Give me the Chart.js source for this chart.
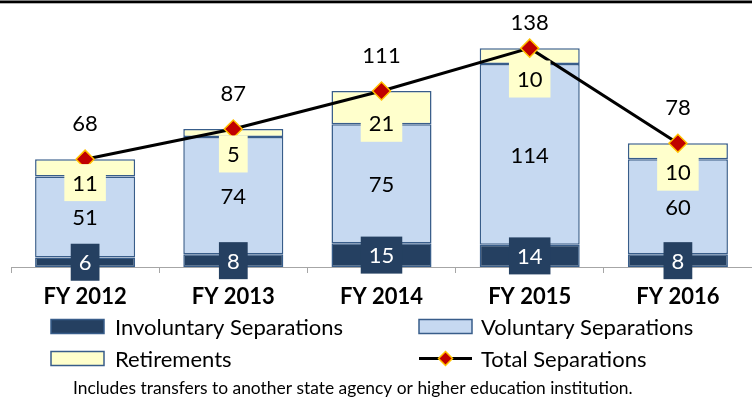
<!DOCTYPE html>
<html><head><meta charset="utf-8">
<script src="https://cdn.jsdelivr.net/npm/chart.js@4.4.0/dist/chart.umd.min.js"></script>
<style>html,body{margin:0;padding:0;background:#fff;overflow:hidden}#wrap{position:relative;width:752px;height:401px}</style>
</head><body><div id="wrap"><canvas id="c" width="752" height="401"></canvas></div>
<script>
const categories = ['FY 2012', 'FY 2013', 'FY 2014', 'FY 2015', 'FY 2016'];
const involuntary = [6, 8, 15, 14, 8];
const voluntary = [51, 74, 75, 114, 60];
const retirements = [11, 5, 21, 10, 10];
const totals = [68, 87, 111, 138, 78];
const seriesNames = ['Involuntary Separations', 'Voluntary Separations', 'Retirements', 'Total Separations'];
const footnote = 'Includes transfers to another state agency or higher education institution.';
// per-label vertical nudges (px) of the retirement labels, as placed in the original
const retLabelShift = [6, 17, -1, 15, 13];

const C = {inv:'#254061', vol:'#C6D9F1', ret:'#FFFFCC', edge:'#385D8A', red:'#C00000', gold:'#FFC000', axis:'#A6A6A6'};
const FONT = 'Lato';

const labelPlugin = {
  id: 'labels',
  beforeDraw(chart) {
    const ctx = chart.ctx;
    ctx.save();
    ctx.fillStyle = '#000';
    ctx.fillRect(0, 0.5, chart.width, 2.8);
    ctx.restore();
  },
  afterDatasetsDraw(chart) {
    const ctx = chart.ctx, ys = chart.scales.y;
    const meta = chart.getDatasetMeta(0);
    ctx.save();
    ctx.font = '22px ' + FONT;
    ctx.textAlign = 'center';
    ctx.textBaseline = 'middle';
    const box = (cx, cy, txt, bg, fg) => {
      const w = ctx.measureText(txt).width + 16, h = 37;
      ctx.fillStyle = bg;
      ctx.fillRect(cx - w / 2, cy - h / 2, w, h);
      ctx.fillStyle = fg;
      ctx.fillText(txt, cx, cy + 1);
    };
    categories.forEach((c, i) => {
      const x = meta.data[i].x;
      const y0 = ys.getPixelForValue(0);
      const y1 = ys.getPixelForValue(involuntary[i]);
      const y2 = ys.getPixelForValue(involuntary[i] + voluntary[i]);
      ctx.fillStyle = '#000';
      ctx.fillText(String(voluntary[i]), x, (y1 + y2) / 2 + 1);
      box(x, (y0 + y1) / 2, String(involuntary[i]), C.inv, '#fff');
      box(x, y2 + retLabelShift[i], String(retirements[i]), C.ret, '#000');
      const yt = ys.getPixelForValue(totals[i]);
      ctx.fillStyle = '#000';
      ctx.fillText(String(totals[i]), x, Math.max(yt - 35, chart.chartArea.top - 22));
    });
    ctx.restore();
  },
  afterDraw(chart) {
    const ctx = chart.ctx;
    ctx.save();
    ctx.textBaseline = 'middle';
    ctx.textAlign = 'left';
    ctx.font = '22px ' + FONT;
    const swatch = (x, y, fill) => {
      ctx.fillStyle = fill;
      ctx.fillRect(x, y - 7, 53, 14);
      ctx.strokeStyle = C.edge;
      ctx.lineWidth = 1.5;
      ctx.strokeRect(x, y - 7, 53, 14);
    };
    const rows = [326.5, 358.5];
    swatch(51, rows[0], C.inv);
    ctx.fillStyle = '#000'; ctx.fillText(seriesNames[0], 115, rows[0] + 1);
    swatch(419, rows[0], C.vol);
    ctx.fillStyle = '#000'; ctx.fillText(seriesNames[1], 481, rows[0] + 1);
    swatch(51, rows[1], C.ret);
    ctx.fillStyle = '#000'; ctx.fillText(seriesNames[2], 115, rows[1] + 1);
    ctx.strokeStyle = '#000'; ctx.lineWidth = 3;
    ctx.beginPath(); ctx.moveTo(419, rows[1]); ctx.lineTo(472, rows[1]); ctx.stroke();
    const dx = 445.5, r = 7;
    ctx.beginPath(); ctx.moveTo(dx, rows[1] - r); ctx.lineTo(dx + r, rows[1]); ctx.lineTo(dx, rows[1] + r); ctx.lineTo(dx - r, rows[1]); ctx.closePath();
    ctx.fillStyle = C.red; ctx.fill(); ctx.strokeStyle = C.gold; ctx.lineWidth = 1.5; ctx.stroke();
    ctx.fillStyle = '#000'; ctx.fillText(seriesNames[3], 481, rows[1] + 1);
    ctx.font = '17.4px ' + FONT;
    ctx.fillText(footnote, 73, 388);
    ctx.restore();
  }
};

const barCommon = {type: 'bar', stack: 's', borderColor: C.edge, borderWidth: 1.5, borderSkipped: false,
  categoryPercentage: 1, barPercentage: 0.675, order: 2};

new Chart(document.getElementById('c'), {
  data: {
    labels: categories,
    datasets: [
      Object.assign({}, barCommon, {label: seriesNames[0], data: involuntary, backgroundColor: C.inv}),
      Object.assign({}, barCommon, {label: seriesNames[1], data: voluntary, backgroundColor: C.vol}),
      Object.assign({}, barCommon, {label: seriesNames[2], data: retirements, backgroundColor: C.ret}),
      {type: 'line', label: seriesNames[3], data: totals, borderColor: '#000', borderWidth: 3,
        pointStyle: 'rectRot', pointRadius: 9, pointBackgroundColor: C.red, pointBorderColor: C.gold,
        pointBorderWidth: 1.5, tension: 0, order: 0, clip: false}
    ]
  },
  options: {
    responsive: false, animation: false, devicePixelRatio: 1,
    layout: {autoPadding: false, padding: {left: 11, right: -1, top: 45, bottom: 0}},
    plugins: {legend: {display: false}, tooltip: {enabled: false}},
    scales: {
      x: {
        stacked: true, offset: true,
        grid: {display: true, drawOnChartArea: false, drawTicks: true, tickLength: 6, color: C.axis, offset: true},
        border: {display: true, color: C.axis, width: 1},
        ticks: {font: {family: FONT, size: 22, weight: 'bold'}, color: '#000', padding: 11, maxRotation: 0},
        afterFit(s) { s.height = 134; s.paddingLeft = 0; s.paddingRight = 0; }
      },
      y: {stacked: true, display: false, min: 0, max: 140}
    }
  },
  plugins: [labelPlugin]
});
</script></body></html>
